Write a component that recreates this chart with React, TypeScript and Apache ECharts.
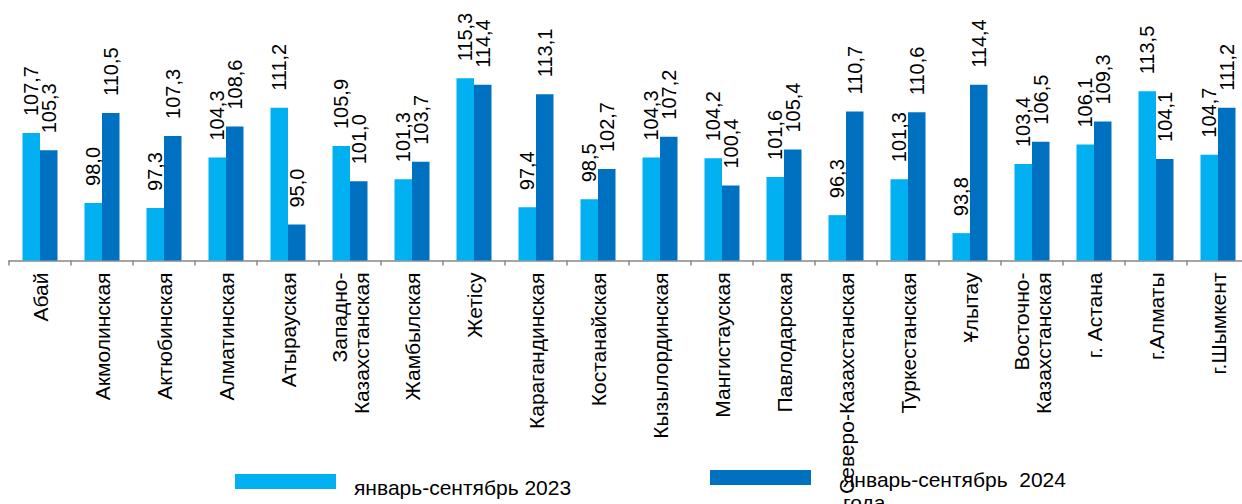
import React, { useEffect, useRef } from "react";
import * as echarts from "echarts";

const categories = [
  "Абай",
  "Акмолинская",
  "Актюбинская",
  "Алматинская",
  "Атырауская",
  "Западно-\nКазахстанская",
  "Жамбылская",
  "Жетісу",
  "Карагандинская",
  "Костанайская",
  "Кызылординская",
  "Мангистауская",
  "Павлодарская",
  "Северо-Казахстанская",
  "Туркестанская",
  "Ұлытау",
  "Восточно-\nКазахстанская",
  "г. Астана",
  "г.Алматы",
  "г.Шымкент",
];

const values2023 = [107.7, 98.0, 97.3, 104.3, 111.2, 105.9, 101.3, 115.3, 97.4, 98.5, 104.3, 104.2, 101.6, 96.3, 101.3, 93.8, 103.4, 106.1, 113.5, 104.7];
const values2024 = [105.3, 110.5, 107.3, 108.6, 95.0, 101.0, 103.7, 114.4, 113.1, 102.7, 107.2, 100.4, 105.4, 110.7, 110.6, 114.4, 106.5, 109.3, 104.1, 111.2];

const seriesNames = ["январь-сентябрь 2023", "январь-сентябрь  2024\nгода"];
const colors = ["#00B0F0", "#0070C0"];

const FONT = "'Liberation Sans', Arial, sans-serif";

export default function App() {
  const ref = useRef<HTMLDivElement>(null);
  useEffect(() => {
    if (!ref.current) return;
    const chart = echarts.init(ref.current, null, { renderer: "svg" });
    const label = {
      show: true,
      position: "top",
      rotate: 90,
      align: "left",
      verticalAlign: "middle",
      distance: 17,
      fontSize: 20,
      fontFamily: FONT,
      color: "#000",
      formatter: (p: any) => Number(p.value).toFixed(1).replace(".", ","),
    };
    chart.setOption({
      animation: false,
      grid: { left: 9, width: 1240, top: 44.5, height: 216 },
      xAxis: {
        type: "category",
        data: categories,
        axisLine: { lineStyle: { color: "#888888", width: 1.5 } },
        axisTick: { show: true, length: 5, lineStyle: { color: "#888888", width: 1.5 } },
        axisLabel: {
          rotate: 90,
          interval: 0,
          margin: 12,
          fontSize: 21,
          lineHeight: 22,
          fontFamily: FONT,
          color: "#000",
        },
      },
      yAxis: {
        type: "value",
        min: 90,
        max: 120,
        show: false,
        splitLine: { show: false },
      },
      series: [
        {
          name: seriesNames[0],
          type: "bar",
          data: values2023,
          barWidth: 17.5,
          barGap: "0%",
          itemStyle: { color: colors[0] },
          label,
        },
        {
          name: seriesNames[1],
          type: "bar",
          data: values2024,
          barWidth: 17.5,
          barGap: "0%",
          itemStyle: { color: colors[1] },
          label,
        },
      ],
      graphic: [
        { type: "rect", shape: { x: 235, y: 474, width: 101, height: 15 }, style: { fill: colors[0] } },
        {
          type: "text",
          x: 354,
          y: 487,
          style: { text: seriesNames[0], fontSize: 21, fontFamily: FONT, fill: "#000", verticalAlign: "middle" },
        },
        { type: "rect", shape: { x: 710, y: 470, width: 101, height: 15 }, style: { fill: colors[1] } },
        {
          type: "text",
          x: 843,
          y: 468,
          style: { text: seriesNames[1], fontSize: 21, lineHeight: 23, fontFamily: FONT, fill: "#000", verticalAlign: "top" },
        },
      ],
    });
    return () => chart.dispose();
  }, []);
  return (
    <div
      ref={ref}
      style={{ position: "fixed", left: 0, top: 0, width: 1260, height: 504, background: "#fff" }}
    />
  );
}
